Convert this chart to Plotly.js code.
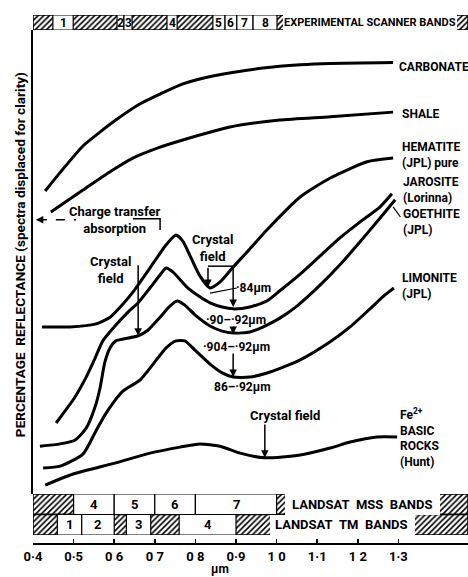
<!DOCTYPE html>
<html><head><meta charset="utf-8">
<script src="https://cdn.plot.ly/plotly-3.0.1.min.js"></script>
<style>html,body{margin:0;padding:0;background:#fff;}#chart{width:468px;height:577px;}</style>
</head><body><div id="chart"></div>
<script>
// ---- spectra (x in micrometres, y = relative reflectance, spectra displaced) ----
const carbonateX = [0.430,0.466,0.523,0.565,0.604,0.664,0.713,0.769,0.843,0.967,1.058,1.132,1.287];
const carbonateY = [65.3,69.2,75.0,78.0,80.6,84.1,86.2,88.4,90.1,91.8,92.5,92.8,93.0];
const shaleX = [0.444,0.523,0.585,0.646,0.708,0.769,0.885,1.008,1.132,1.287];
const shaleY = [60.8,65.5,69.2,72.4,74.6,76.3,79.1,80.6,81.3,82.3];
const hematiteX = [0.422,0.491,0.553,0.590,0.619,0.646,0.688,0.728,0.752,0.769,0.787,0.811,0.836,0.861,0.893,0.934,0.976,1.058,1.132,1.223,1.287];
const hematiteY = [36.0,36.0,36.6,38.1,40.7,43.5,48.7,53.7,55.8,54.5,51.3,47.0,44.4,45.7,48.9,52.8,56.9,64.0,68.1,71.6,72.4];
const jarositeX = [0.457,0.479,0.499,0.531,0.553,0.572,0.602,0.634,0.659,0.688,0.713,0.728,0.745,0.779,0.811,0.836,0.866,0.893,0.934,0.976,1.008,1.058,1.107,1.156,1.205,1.255,1.284];
const jarositeY = [15.3,17.9,20.3,25.2,29.3,33.0,36.2,39.2,41.2,44.4,47.2,48.7,47.8,44.6,42.5,41.2,40.3,39.9,40.3,41.6,43.8,47.4,51.3,55.2,58.6,61.9,64.7];
const goethiteX = [0.417,0.467,0.503,0.531,0.553,0.565,0.577,0.590,0.604,0.622,0.659,0.683,0.713,0.737,0.755,0.774,0.799,0.836,0.866,0.893,0.934,0.976,1.008,1.050,1.107,1.156,1.205,1.255,1.292];
const goethiteY = [10.3,10.8,11.6,14.2,18.8,22.8,28.4,31.5,33.0,33.4,34.1,35.3,38.1,40.5,41.6,40.7,38.6,36.2,35.1,34.7,34.9,36.4,37.9,40.5,45.0,49.4,54.3,59.5,63.4];
const limoniteX = [0.425,0.467,0.523,0.555,0.577,0.597,0.622,0.664,0.696,0.728,0.752,0.774,0.799,0.836,0.866,0.893,0.934,0.984,1.058,1.132,1.181,1.230,1.267,1.289];
const limoniteY = [5.6,6.0,8.6,13.6,17.0,19.6,22.2,24.6,28.0,31.5,33.0,33.0,31.0,28.0,26.1,25.2,25.2,26.3,28.9,32.8,36.0,39.9,42.9,44.4];
const basicX = [0.430,0.499,0.604,0.688,0.762,0.811,0.861,0.910,0.971,1.058,1.132,1.181,1.247,1.297];
const basicY = [1.9,4.3,6.7,8.8,10.1,10.8,10.3,8.8,7.8,8.4,9.9,11.2,12.3,12.3];

// ---- band strips (micrometres) ----
const expBandStart = [0.449,0.607,0.624,0.730,0.843,0.873,0.902,0.942];
const expBandEnd   = [0.499,0.624,0.644,0.755,0.873,0.902,0.942,1.001];
const expBandLabels = ['1','2','3','4','5','6','7','8'];
const mssBandStart = [0.5,0.6,0.7,0.8];
const mssBandEnd   = [0.6,0.7,0.8,1.0];
const mssBandLabels = ['4','5','6','7'];
const tmBandStart = [0.46,0.52,0.63,0.76];
const tmBandEnd   = [0.52,0.60,0.69,0.90];
const tmBandLabels = ['1','2','3','4'];

// ---- axis ticks ----
const tickVals = [0.4,0.5,0.6,0.7,0.8,0.9,1.0,1.1,1.2,1.3];
const tickText = ['0·4','0·5','0 6','0 7','0 8','0·9','1 0','1·1','1 2','1·3'];

const F = "Roboto, Liberation Sans, sans-serif";
const XMIN = 0.4, XMAX = 1.4714;
const hatch = {shape:'/', fgcolor:'#000', bgcolor:'#fff', size:4, solidity:0.4};

function curve(x, y){
  return {x:x, y:y, type:'scatter', mode:'lines', xaxis:'x', yaxis:'y',
    line:{color:'#000', width:3, shape:'spline', smoothing:0.6}, hoverinfo:'skip'};
}
function strip(row, yaxis){
  return {type:'bar', orientation:'h', y:[row], base:[XMIN], x:[XMAX-XMIN], width:[1],
    xaxis:'x', yaxis:yaxis, marker:{color:'#fff', pattern:hatch, line:{color:'#000', width:1.5}}, hoverinfo:'skip'};
}
function boxes(row, yaxis, s, e, lw){
  return {type:'bar', orientation:'h', y:s.map(()=>row), base:s, x:s.map((v,i)=>e[i]-v),
    width:s.map(()=>1), xaxis:'x', yaxis:yaxis,
    marker:{color:'#fff', line:{color:'#000', width:lw}}, hoverinfo:'skip'};
}

const data = [
  strip('exp','y3'), strip('MSS','y2'), strip('TM','y2'),
  boxes('exp','y3', expBandStart, expBandEnd, 1.2),
  boxes('exp','y3', [1.016], [1.444], 0),
  boxes('MSS','y2', mssBandStart, mssBandEnd, 1.2),
  boxes('MSS','y2', [1.021], [1.402], 0),
  boxes('TM','y2', tmBandStart, tmBandEnd, 1.2),
  boxes('TM','y2', [0.984], [1.341], 0),
  curve(carbonateX, carbonateY), curve(shaleX, shaleY), curve(hematiteX, hematiteY),
  curve(jarositeX, jarositeY), curve(goethiteX, goethiteY), curve(limoniteX, limoniteY),
  curve(basicX, basicY)
];

const ann = [];
function txt(x, y, t, size, anchor, extra){
  ann.push(Object.assign({x:x, y:y, xref:'x', yref:'y', text:t, showarrow:false,
    xanchor:anchor||'center', yanchor:'middle', align:anchor==='left'?'left':'center',
    font:{family:F, size:size, color:'#000', weight:'bold'}}, extra||{}));
}
function arrow(x, y, ax, ay){
  ann.push({x:x, y:y, ax:ax, ay:ay, xref:'x', yref:'y', axref:'x', ayref:'y', text:'',
    showarrow:true, arrowhead:2, arrowsize:1, arrowwidth:1.5, arrowcolor:'#000', standoff:0, startstandoff:0});
}
// band labels
expBandLabels.forEach((l,i)=>ann.push({x:(expBandStart[i]+expBandEnd[i])/2, y:0, xref:'x', yref:'y3', text:l, showarrow:false, font:{family:F,size:12,color:'#000',weight:'bold'}}));
mssBandLabels.forEach((l,i)=>ann.push({x:(mssBandStart[i]+mssBandEnd[i])/2, y:1, xref:'x', yref:'y2', text:l, showarrow:false, font:{family:F,size:13,color:'#000',weight:'bold'}}));
tmBandLabels.forEach((l,i)=>ann.push({x:(tmBandStart[i]+tmBandEnd[i])/2, y:0, xref:'x', yref:'y2', text:l, showarrow:false, font:{family:F,size:13,color:'#000',weight:'bold'}}));
ann.push({x:1.230, y:0, xref:'x', yref:'y3', text:'EXPERIMENTAL SCANNER BANDS', showarrow:false, font:{family:F,size:11,color:'#000',weight:'bold'}});
ann.push({x:1.211, y:1, xref:'x', yref:'y2', text:'LANDSAT\u00a0\u00a0MSS\u00a0\u00a0BANDS', showarrow:false, font:{family:F,size:13,color:'#000',weight:'bold'}});
ann.push({x:1.161, y:0, xref:'x', yref:'y2', text:'LANDSAT\u00a0\u00a0TM\u00a0\u00a0BANDS', showarrow:false, font:{family:F,size:13,color:'#000',weight:'bold'}});

// curve labels
txt(1.297, 92.0, 'CARBONATE', 12, 'left');
txt(1.304, 81.9, 'SHALE', 12, 'left');
txt(1.304, 73.1, 'HEMATITE<br>(JPL) pure', 12, 'left');
txt(1.306, 65.5, 'JAROSITE<br>(Lorinna)', 12, 'left');
txt(1.306, 58.6, 'GOETHITE<br>(JPL)', 12, 'left');
txt(1.304, 44.8, 'LIMONITE<br>(JPL)', 12, 'left');
txt(1.300, 12.2, 'Fe<sup>2+</sup><br>BASIC<br>ROCKS<br>(Hunt)', 12, 'left');

// feature annotations
txt(0.600, 59.0, 'Charge transfer<br>absorption', 13, 'center');
txt(0.590, 48.3, 'Crystal<br>field', 13, 'center');
arrow(0.659, 34.1, 0.659, 49.6);
txt(0.841, 53.0, 'Crystal<br>field', 13, 'center');
arrow(0.831, 44.6, 0.831, 49.1);
arrow(0.893, 40.3, 0.893, 49.1);
txt(0.944, 44.4, '·84μm', 12, 'center');
txt(0.900, 37.5, '·90–·92μm', 12, 'center');
arrow(0.893, 34.5, 0.893, 36.4);
txt(0.900, 31.7, '·904–·92μm', 12, 'center');
arrow(0.893, 25.2, 0.893, 30.6);
txt(0.917, 23.1, '86–·92μm', 12, 'center');
txt(1.021, 17.0, 'Crystal field', 13, 'center');
arrow(0.971, 7.8, 0.971, 15.3);
arrow(0.407, 59.1, 0.425, 59.1);

// axis title & unit
ann.push({x:-0.030, y:0.547, xref:'paper', yref:'paper', text:'PERCENTAGE  REFLECTANCE (spectra displaced for clarity)',
  textangle:-90, showarrow:false, xanchor:'center', yanchor:'middle', font:{family:F, size:13.6, color:'#000', weight:'bold'}});
ann.push({x:0.861, y:-0.049, xref:'x', yref:'paper', text:'μm', showarrow:false, xanchor:'center', yanchor:'middle',
  font:{family:F, size:12, color:'#000', weight:'bold'}});

const shapes = [
  {type:'line', xref:'x', yref:'y', x0:0.412, y0:59.1, x1:0.506, y1:59.1, line:{color:'#000', width:1.5, dash:'dash'}},
  {type:'path', xref:'x', yref:'y', path:'M 0.646 59.3 L 0.713 59.3 L 0.713 56.9', line:{color:'#000', width:1.5}},
  {type:'line', xref:'x', yref:'y', x0:0.831, y0:49.1, x1:0.893, y1:49.1, line:{color:'#000', width:1.5}},
  {type:'line', xref:'x', yref:'y', x0:0.836, y0:43.3, x1:0.902, y1:44.4, line:{color:'#000', width:1.2}},
  {type:'line', xref:'x', yref:'y', x0:1.287, y0:61.9, x1:1.305, y1:59.7, line:{color:'#000', width:1.2}}
];

const layout = {
  width:468, height:577, margin:{l:33, r:0, t:15, b:34},
  paper_bgcolor:'#fff', plot_bgcolor:'#fff', showlegend:false,
  barmode:'overlay', bargap:0,
  xaxis:{range:[XMIN, XMAX], anchor:'free', position:0, showgrid:false, zeroline:false,
    showline:true, linecolor:'#000', linewidth:1.5, ticks:'inside', ticklen:4, tickwidth:1.5, tickcolor:'#000',
    tickvals:tickVals, ticktext:tickText, ticklabelstandoff:1,
    tickfont:{family:F, size:13, color:'#000', weight:'bold'}},
  yaxis:{domain:[0.0928, 0.9716], range:[0,100], anchor:'x', showgrid:false, zeroline:false,
    showline:true, linecolor:'#000', linewidth:2, ticks:'', showticklabels:false},
  yaxis2:{domain:[0.01515, 0.0928], type:'category', categoryorder:'array', categoryarray:['TM','MSS'],
    range:[-0.5,1.5], anchor:'x', showgrid:false, zeroline:false, showline:false, showticklabels:false, ticks:''},
  yaxis3:{domain:[0.9716, 1.0], type:'category', range:[-0.5,0.5], anchor:'x', showgrid:false, zeroline:false,
    showline:false, showticklabels:false, ticks:''},
  annotations:ann, shapes:shapes
};
Plotly.newPlot('chart', data, layout, {staticPlot:true, displayModeBar:false});
</script></body></html>
